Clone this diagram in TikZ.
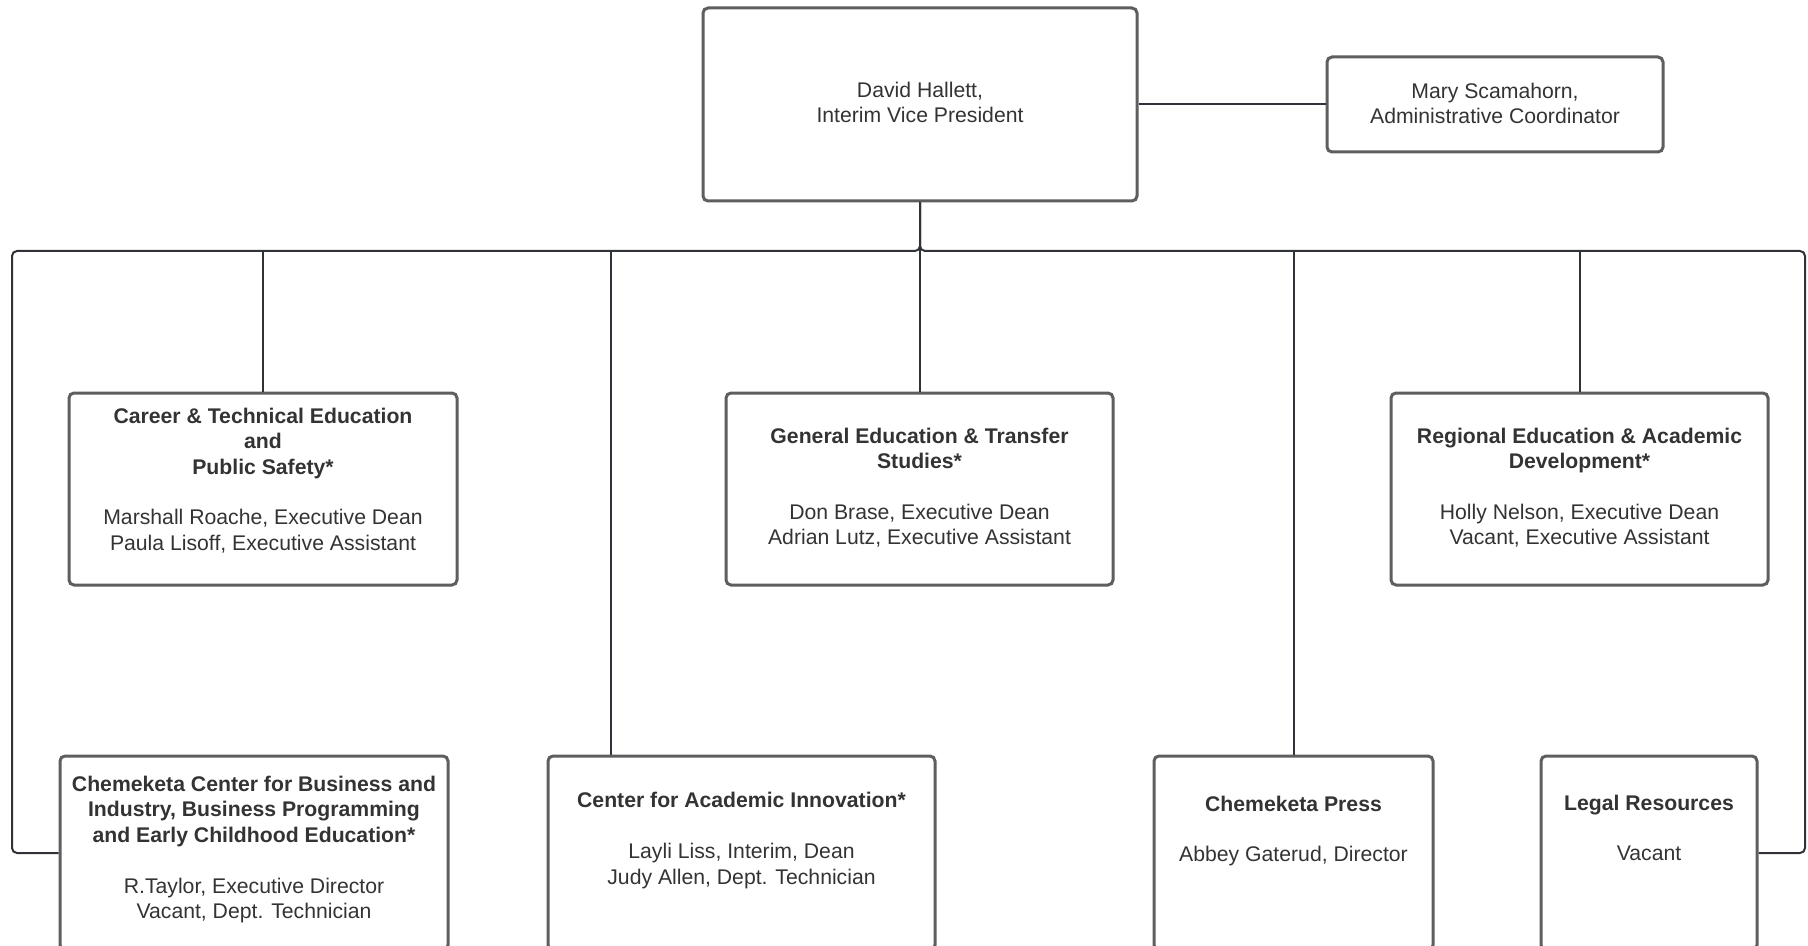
\documentclass[tikz,border=0pt]{standalone}
\usepackage{fontspec}
\setmainfont{Liberation Sans}
\usetikzlibrary{positioning}
\definecolor{boxgray}{HTML}{5E5E5E}
\definecolor{linegray}{HTML}{2F3339}
\definecolor{txtgray}{HTML}{333333}

\begin{document}
\begin{tikzpicture}[x=0.5pt, y=-0.5pt,
    box/.style={draw=boxgray, line width=1.5pt, rounded corners=2.5pt, inner sep=0pt},
    txt/.style={align=center, text=txtgray, font=\fontsize{10.6}{12.7}\selectfont, inner sep=0pt},
    conn/.style={draw=linegray, line width=1pt, rounded corners=2.5pt}]

    \useasboundingbox (0, 0) rectangle (1808, 946);
    \clip (0, 0) rectangle (1808, 946);

    % Top
    \node at (920, 104.5) [box, minimum width=217pt, minimum height=96.5pt] (vp) {};
    \node at (920, 102.5) [txt] (vptxt) {David Hallett,\\Interim Vice President};
    \node at (1495, 104.5) [box, minimum width=168pt, minimum height=47.5pt] (mary) {};
    \node at (1495, 103.5) [txt] (marytxt) {Mary Scamahorn,\\Administrative Coordinator};

    % Middle row
    \node at (263, 489) [box, minimum width=194pt, minimum height=96pt] (career) {};
    \node at (263, 480.5) [txt] (careertxt) {\textbf{Career \& Technical Education}\\\textbf{and}\\\textbf{Public Safety*}\\[12.7pt]Marshall Roache, Executive Dean\\Paula Lisoff, Executive Assistant};
    \node at (919.5, 489) [box, minimum width=193.5pt, minimum height=96pt] (gened) {};
    \node at (919.5, 487.5) [txt] (genedtxt) {\textbf{General Education \& Transfer}\\\textbf{Studies*}\\[12.7pt]Don Brase, Executive Dean\\Adrian Lutz, Executive Assistant};
    \node at (1579.5, 489) [box, minimum width=188.5pt, minimum height=96pt] (regional) {};
    \node at (1579.5, 487.5) [txt] (regionaltxt) {\textbf{Regional Education \& Academic}\\\textbf{Development*}\\[12.7pt]Holly Nelson, Executive Dean\\Vacant, Executive Assistant};

    % Bottom row
    \node at (254, 853) [box, minimum width=194pt, minimum height=97pt] (cbi) {};
    \node at (254, 849.5) [txt] (cbitxt) {\textbf{Chemeketa Center for Business and}\\\textbf{Industry, Business Programming}\\\textbf{and Early Childhood Education*}\\[12.7pt]R.Taylor, Executive Director\\Vacant, Dept. Technician};
    \node at (741.5, 853) [box, minimum width=193.5pt, minimum height=97pt] (cai) {};
    \node at (741.5, 840.5) [txt] (caitxt) {\textbf{Center for Academic Innovation*}\\[12.7pt]Layli Liss, Interim, Dean\\Judy Allen, Dept. Technician};
    \node at (1293.5, 853) [box, minimum width=139.5pt, minimum height=97pt] (press) {};
    \node at (1293.5, 831) [txt] (presstxt) {\textbf{Chemeketa Press}\\[12.7pt]Abbey Gaterud, Director};
    \node at (1649, 853) [box, minimum width=108pt, minimum height=97pt] (legal) {};
    \node at (1649, 828) [txt] (legaltxt) {\textbf{Legal Resources}\\[12.7pt]Vacant};

    % Bus
    \coordinate (busL) at (12, 251);
    \coordinate (busR) at (1805, 251);
    \coordinate (caiJ) at (611, 251);
    \draw[conn] (vp.east) -- (mary.west);
    \draw[conn] (vp.south) |- (busL) |- (cbi.west);
    \draw[conn] (vp.south) |- (busR) |- (legal.east);
    \draw[conn] (vp.south) -- (vp.south |- gened.north);
    \draw[conn] (career.north |- busL) -- (career.north);
    \draw[conn] (regional.north |- busR) -- (regional.north);
    \draw[conn] (press.north |- busR) -- (press.north);
    \draw[conn] (caiJ) -- (caiJ |- cai.north);
\end{tikzpicture}
\end{document}
